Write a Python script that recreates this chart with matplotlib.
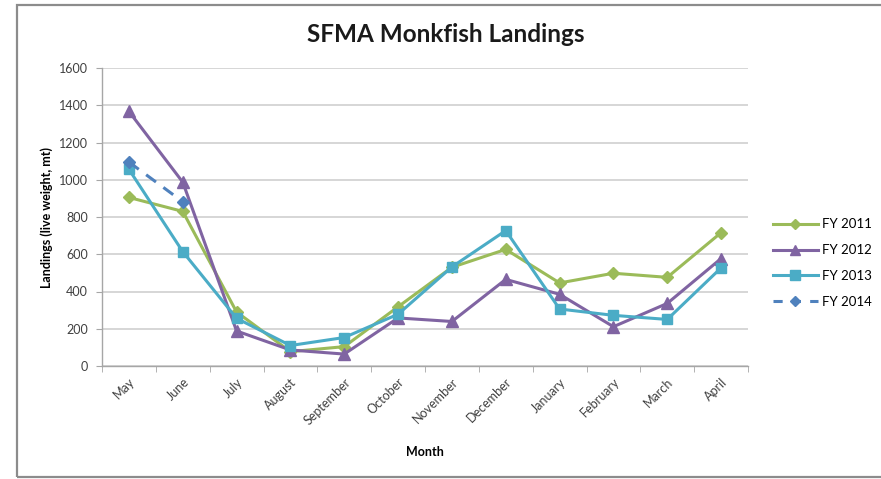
import matplotlib
matplotlib.use("Agg")
import matplotlib.pyplot as plt
from matplotlib.patches import Rectangle
from matplotlib.lines import Line2D
import numpy as np

months = ["May", "June", "July", "August", "September", "October", "November",
          "December", "January", "February", "March", "April"]
fy2011 = [905, 830, 290, 77, 104, 318, 530, 626, 446, 498, 476, 716]
fy2012 = [1367, 987, 188, 86, 64, 258, 239, 465, 385, 211, 336, 577]
fy2013 = [1056, 614, 256, 110, 153, 278, 532, 727, 306, 272, 250, 527]
fy2014 = [1095, 882]
series_names = ["FY 2011", "FY 2012", "FY 2013", "FY 2014"]
yticks = [0, 200, 400, 600, 800, 1000, 1200, 1400, 1600]

plt.rcParams['font.family'] = ['Lato', 'DejaVu Sans']

W, H = 881, 479
fig = plt.figure(figsize=(W / 100, H / 100), dpi=100)
fig.patch.set_facecolor('white')

# outer chart border
fig.add_artist(Rectangle((17 / W, 1 - 477 / H), (W + 10 - 17) / W, (477 - 5) / H,
                         transform=fig.transFigure, fill=False,
                         edgecolor='#8c8c8c', linewidth=1.6))

ax = fig.add_axes([102 / W, 1 - 366 / H, (748 - 102) / W, (366 - 68) / H])
x = np.arange(len(months))

colors = ['#9BBB59', '#8064A2', '#4BACC6', '#4F81BD']
ax.plot(x, fy2011, color=colors[0], marker='D', markersize=6, linewidth=2.2)
ax.plot(x, fy2012, color=colors[1], marker='^', markersize=8, linewidth=2.2)
ax.plot(x, fy2013, color=colors[2], marker='s', markersize=7.5, linewidth=2.2)
ax.plot(x[:len(fy2014)], fy2014, color=colors[3], marker='D', markersize=6, linewidth=2.2,
        linestyle=(0, (4, 3)))

ax.set_xlim(-0.5, len(months) - 0.5)
ax.set_ylim(0, 1600)
ax.set_yticks(yticks)
ax.set_yticklabels([str(v) for v in yticks], fontsize=9, color='#404040')
ax.yaxis.grid(True, color='#d0d0d0', linewidth=1.2)
ax.set_axisbelow(True)
ax.set_xticks(x)
ax.set_xticklabels(months, rotation=45, ha='right', rotation_mode='anchor',
                   fontsize=9, color='#404040')
ax.tick_params(axis='x', length=0, pad=7)
ax.set_xticks(np.arange(-0.5, len(months), 1), minor=True)
ax.tick_params(axis='x', which='minor', length=4, color='#a6a6a6')
ax.tick_params(axis='y', length=4, color='#a6a6a6', pad=6)

for s in ['top', 'right']:
    ax.spines[s].set_visible(False)
for s in ['left', 'bottom']:
    ax.spines[s].set_color('#a6a6a6')
    ax.spines[s].set_linewidth(1.0)

ax.set_xlabel("Month", fontsize=9, fontweight='bold', labelpad=14)
ax.set_ylabel("Landings (live weight, mt)", fontsize=9, fontweight='bold', labelpad=4)

fig.text(446 / W, 1 - 35 / H, "SFMA Monkfish Landings", fontsize=17.5, fontweight='bold',
         ha='center', va='center', color='#1a1a1a')

handles = [
    Line2D([], [], color=colors[0], marker='D', markersize=5, linewidth=2.2),
    Line2D([], [], color=colors[1], marker='^', markersize=6.5, linewidth=2.2),
    Line2D([], [], color=colors[2], marker='s', markersize=6.5, linewidth=2.2),
    Line2D([], [], color=colors[3], marker='D', markersize=5, linewidth=2.2, linestyle=(0, (3, 3))),
]
ax.legend(handles, series_names, loc='center left', bbox_to_anchor=(1.02, 0.345), frameon=False,
          fontsize=9.5, handlelength=3.4, labelspacing=1.05, handletextpad=0.3)

fig.savefig("out.png", dpi=100)
